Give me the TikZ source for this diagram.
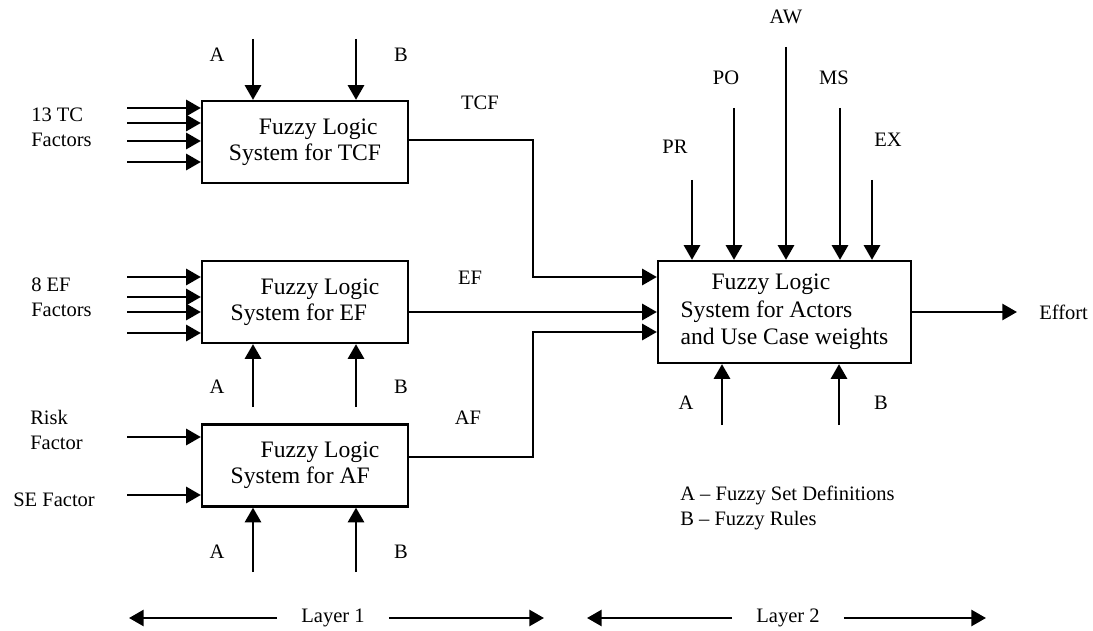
\documentclass[tikz,border=0pt]{standalone}
\usepackage{fontspec}
\setmainfont{Liberation Serif}
\usetikzlibrary{arrows.meta,positioning,calc}
\tikzset{
  fls/.style={draw=black,line width=1.7pt,align=left,inner sep=0pt,
    font=\fontsize{17.7}{19.5}\selectfont},
  flsbox/.style={fls,minimum width=154.5pt,minimum height=61.5pt},
  lbl/.style={font=\fontsize{15.4}{18.75}\selectfont,inner sep=0pt},
  flow/.style={-{Triangle[length=11pt,width=12pt]},line width=2pt},
}
\begin{document}
\begin{tikzpicture}[x=0.75pt,y=-0.75pt]
  \useasboundingbox (0,0) rectangle (1093,631);
  % layer 1
  \node[flsbox] (tcf) at (305,142) {\hspace*{22.5pt}Fuzzy Logic\\System for TCF};
  \node[flsbox] (ef) at (305,302) {\hspace*{22.5pt}Fuzzy Logic\\System for EF};
  \node[flsbox] (af) at (305,465.5) {\hspace*{22.5pt}Fuzzy Logic\\System for AF};
  % layer 2
  \node[fls,minimum width=189.75pt,minimum height=76.5pt,font=\fontsize{17.7}{20.6}\selectfont] (act) at (784.5,312)
    {\hspace*{23.25pt}Fuzzy Logic\\System for Actors\\and Use Case weights};

  \node[lbl,anchor=west,align=left] (tclab) at (31,127.5) {13 TC\\Factors};
  \node[lbl,anchor=west,align=left] (eflab) at (31,297.5) {8 EF\\Factors};
  \node[lbl,anchor=west,align=left] (risklab) at (30,429.5) {Risk\\Factor};
  \node[lbl,anchor=west] (selab) at (13,500) {SE Factor};

  \coordinate (tc1) at (127,108);
  \coordinate (tc2) at (127,123);
  \coordinate (tc3) at (127,141);
  \coordinate (tc4) at (127,162);
  \draw[flow] (tc1) -- (tc1 -| tcf.west);
  \draw[flow] (tc2) -- (tc2 -| tcf.west);
  \draw[flow] (tc3) -- (tc3 -| tcf.west);
  \draw[flow] (tc4) -- (tc4 -| tcf.west);
  \coordinate (ef1) at (127,277);
  \coordinate (ef2) at (127,297);
  \coordinate (ef3) at (127,312);
  \coordinate (ef4) at (127,333);
  \draw[flow] (ef1) -- (ef1 -| ef.west);
  \draw[flow] (ef2) -- (ef2 -| ef.west);
  \draw[flow] (ef3) -- (ef3 -| ef.west);
  \draw[flow] (ef4) -- (ef4 -| ef.west);
  \coordinate (rk) at (127,437);
  \coordinate (se) at (127,495);
  \draw[flow] (rk) -- (rk -| af.west);
  \draw[flow] (se) -- (se -| af.west);

  % A = set definitions, B = rules
  \node[lbl] (tcfal) at (217,55) {A};
  \node[lbl] (tcfbl) at (401,55) {B};
  \coordinate (tcfa) at (253,39);
  \coordinate (tcfb) at (356,39);
  \draw[flow] (tcfa) -- (tcfa |- tcf.north);
  \draw[flow] (tcfb) -- (tcfb |- tcf.north);
  \node[lbl] (efal) at (217,387) {A};
  \node[lbl] (efbl) at (401,387) {B};
  \coordinate (efa) at (253,407);
  \coordinate (efb) at (356,407);
  \draw[flow] (efa) -- (efa |- ef.south);
  \draw[flow] (efb) -- (efb |- ef.south);
  \node[lbl] (afal) at (217,552) {A};
  \node[lbl] (afbl) at (401,552) {B};
  \coordinate (afa) at (253,572);
  \coordinate (afb) at (356,572);
  \draw[flow] (afa) -- (afa |- af.south);
  \draw[flow] (afb) -- (afb |- af.south);
  \node[lbl] (actal) at (686,403) {A};
  \node[lbl] (actbl) at (881,403) {B};
  \coordinate (acta) at (722,425);
  \coordinate (actb) at (839,425);
  \draw[flow] (acta) -- (acta |- act.south);
  \draw[flow] (actb) -- (actb |- act.south);

  % weights into layer 2
  \node[lbl] (prl) at (675,147) {PR};
  \node[lbl] (pol) at (726,78) {PO};
  \node[lbl] (awl) at (786,17) {AW};
  \node[lbl] (msl) at (834,78) {MS};
  \node[lbl] (exl) at (888,140) {EX};
  \coordinate (pr) at (692,180);
  \coordinate (po) at (734,108);
  \coordinate (aw) at (786,47);
  \coordinate (ms) at (840,108);
  \coordinate (ex) at (872,180);
  \draw[flow] (pr) -- (pr |- act.north);
  \draw[flow] (po) -- (po |- act.north);
  \draw[flow] (aw) -- (aw |- act.north);
  \draw[flow] (ms) -- (ms |- act.north);
  \draw[flow] (ex) -- (ex |- act.north);

  % layer 1 outputs
  \node[lbl] (tcfout) at (480,103) {TCF};
  \node[lbl] (efout) at (470,278) {EF};
  \node[lbl] (afout) at (468,418) {AF};
  \draw[flow] ([yshift=1.5pt]tcf.east) -| (533,277) -- ([yshift=26.25pt]act.west);
  \draw[flow] ([yshift=-7.5pt]ef.east) -- (act.west);
  \draw[flow] ([yshift=6.4pt]af.east) -| (533,332) -- ([yshift=-15pt]act.west);

  \node[lbl,anchor=west,inner xsep=16.5pt] (effort) at (1017,312) {Effort};
  \draw[flow] (act.east) -- (effort.west);

  \node[lbl,anchor=west,align=left] (legend) at (680,508)
    {A – Fuzzy Set Definitions\\B – Fuzzy Rules};

  \node[lbl,inner xsep=18pt] (lay1) at (333,618) {Layer 1};
  \node[lbl,inner xsep=18pt] (lay2) at (788,618) {Layer 2};
  \coordinate (lay1w) at (129,618);
  \coordinate (lay1e) at (544,618);
  \coordinate (lay2w) at (587,618);
  \coordinate (lay2e) at (986,618);
  \draw[flow] (lay1.west) -- (lay1w);
  \draw[flow] (lay1.east) -- (lay1e);
  \draw[flow] (lay2.west) -- (lay2w);
  \draw[flow] (lay2.east) -- (lay2e);
\end{tikzpicture}
\end{document}
